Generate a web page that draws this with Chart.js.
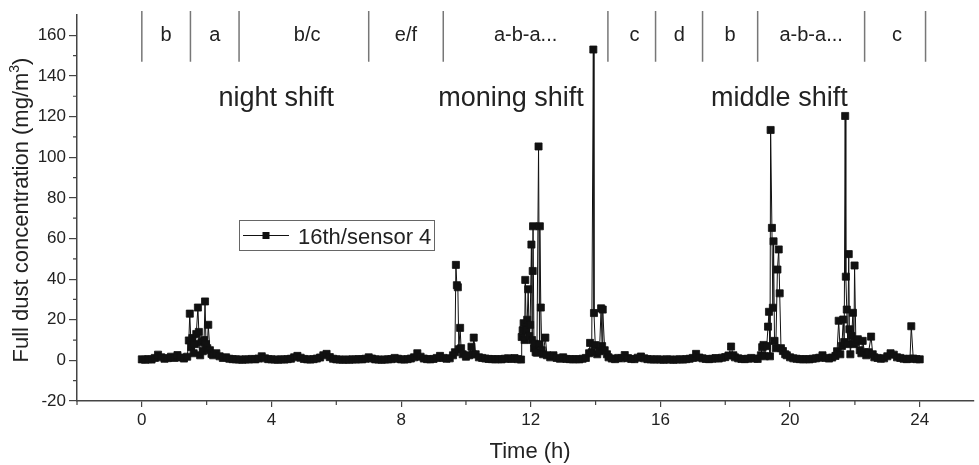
<!DOCTYPE html>
<html>
<head>
<meta charset="utf-8">
<script src="https://cdn.jsdelivr.net/npm/chart.js@4.4.1/dist/chart.umd.min.js"></script>
<style>
  body { margin: 0; background: #fff; }
  canvas { display: block; }
</style>
</head>
<body>
<canvas id="myChart" width="979" height="465"></canvas>
<script>
// time of day (h) and dust reading
var hours = [
  0, 0.1, 0.2, 0.3, 0.4, 0.5, 0.6, 0.7, 0.8, 0.9, 1.0, 1.1, 1.2, 1.3, 1.4,
  1.45, 1.48, 1.52, 1.56, 1.6, 1.64, 1.68, 1.73, 1.76, 1.8, 1.84, 1.88, 1.92, 1.95, 1.98, 2.02, 2.05, 2.1, 2.15, 2.2, 2.3, 2.4, 2.5,
  2.6, 2.7, 2.8, 2.9, 3.0, 3.1, 3.2, 3.3, 3.4, 3.5,
  3.6, 3.7, 3.8, 3.9, 4.0, 4.1, 4.2, 4.3, 4.4, 4.5,
  4.6, 4.7, 4.8, 4.9, 5.0, 5.1, 5.2, 5.3, 5.4, 5.5,
  5.6, 5.7, 5.8, 5.9, 6.0, 6.1, 6.2, 6.3, 6.4, 6.5,
  6.6, 6.7, 6.8, 6.9, 7.0, 7.1, 7.2, 7.3, 7.4, 7.5,
  7.6, 7.7, 7.8, 7.9, 8.0, 8.1, 8.2, 8.3, 8.4, 8.5,
  8.6, 8.7, 8.8, 8.9, 9.0, 9.1, 9.2, 9.3, 9.4, 9.5,
  9.6,
  9.66, 9.69, 9.72, 9.75, 9.78, 9.82, 9.85, 9.9, 10.0, 10.1, 10.17, 10.21, 10.24, 10.3, 10.4,
  10.5, 10.6, 10.7, 10.8, 10.9, 11.0, 11.1, 11.2, 11.3, 11.4, 11.5, 11.6, 11.7,
  11.72, 11.75, 11.78, 11.81, 11.83, 11.86, 11.89, 11.92, 11.95, 11.98, 12.02, 12.04, 12.06, 12.07, 12.1, 12.12, 12.15, 12.19, 12.24, 12.27, 12.28, 12.31, 12.34, 12.38, 12.45, 12.5,
  12.6, 12.7, 12.8, 12.9, 13.0, 13.1, 13.2, 13.3, 13.4, 13.5, 13.6, 13.7, 13.8,
  13.83, 13.88, 13.93, 13.95, 13.99, 14.05, 14.12, 14.17, 14.2, 14.22, 14.28, 14.35, 14.4,
  14.5, 14.6, 14.7, 14.8, 14.9, 15.0, 15.1, 15.2, 15.3, 15.4,
  15.5, 15.6, 15.7, 15.8, 15.9, 16.0, 16.1, 16.2, 16.3, 16.4,
  16.5, 16.6, 16.7, 16.8, 16.9, 17.0, 17.1, 17.2, 17.3, 17.4,
  17.5, 17.6, 17.7, 17.8, 17.9, 18.0, 18.1,
  18.18, 18.25,
  18.3, 18.4, 18.5, 18.6, 18.7, 18.8, 18.9, 19.0,
  19.1, 19.14, 19.18, 19.22, 19.28, 19.32, 19.35, 19.38, 19.4, 19.44, 19.47, 19.49, 19.52, 19.56, 19.61, 19.65, 19.68, 19.72, 19.78, 19.85, 19.9,
  20.0, 20.1, 20.2, 20.3, 20.4, 20.5, 20.6, 20.7, 20.8, 20.9, 21.0, 21.1, 21.2, 21.3, 21.4,
  21.45, 21.5, 21.55, 21.6, 21.64, 21.67, 21.7, 21.72, 21.75, 21.78, 21.81, 21.83, 21.86, 21.9, 21.94, 21.97, 21.99, 22.03, 22.09, 22.15, 22.2, 22.24, 22.3, 22.35, 22.42, 22.5, 22.55,
  22.6, 22.7, 22.8, 22.9, 23.0, 23.1, 23.2, 23.3, 23.4, 23.5, 23.6, 23.7, 23.74, 23.8, 23.9, 24.0
];
var dust = [
  0.5, 0.3, 0.6, 0.4, 1.2, 2.8, 1.5, 0.8, 1.1, 1.8, 1.2, 2.6, 1.4, 0.9, 1.8,
  9.8, 23, 6.5, 11, 3.5, 8, 13, 26, 14, 2.5, 9, 4.5, 10, 29, 8, 6, 17.5, 5, 3.2, 2.5, 3.5, 2, 1.2,
  1.5, 0.8, 0.6, 0.5, 0.4, 0.3, 0.5, 0.4, 0.7, 0.5,
  0.9, 2.0, 1.0, 0.6, 0.5, 0.4, 0.3, 0.5, 0.4, 0.6,
  0.8, 1.5, 2.2, 1.3, 0.7, 0.5, 0.4, 0.6, 0.9, 1.4,
  2.5, 3.2, 1.6, 0.8, 0.5, 0.4, 0.3, 0.4, 0.3, 0.5,
  0.4, 0.6, 0.5, 0.8, 1.5, 0.9, 0.5, 0.4, 0.3, 0.4,
  0.5, 0.6, 1.2, 0.8, 0.5, 0.4, 0.6, 0.9, 1.5, 3.5,
  1.8, 0.9, 0.6, 0.5, 0.7, 1.2, 2.2, 1.2, 0.8, 1.0,
  2.5,
  4, 47, 37, 36, 5.5, 16, 6, 3, 1.8, 2.5, 6.7, 3, 11.2, 3, 1.5,
  1.2, 0.9, 0.7, 0.6, 0.5, 0.6, 0.5, 0.8, 1.0, 0.7, 1.1, 0.6, 0.4,
  11.5, 14.8, 18.3, 10, 39.6, 15, 20, 35, 12, 17.5, 57, 10, 44, 66, 6, 8.2, 4, 3.8, 105.3, 7.9, 66, 26, 5, 3, 11.2, 2.5,
  1.5, 2.5, 1.2, 0.8, 1.5, 0.7, 0.6, 0.5, 0.6, 0.5, 0.8, 1.2, 3.5,
  8.6, 4, 153, 23.3, 7.5, 3, 4.5, 25.6, 7, 25, 5, 3, 1.5,
  0.9, 0.6, 1.2, 1.0, 2.6, 1.1, 0.7, 0.6, 1.3, 1.9,
  1.0, 0.6, 0.5, 0.4, 0.5, 0.4, 0.3, 0.5, 0.4, 0.3,
  0.4, 0.5, 0.4, 0.6, 0.8, 1.2, 3.2, 1.4, 1.0, 0.7,
  0.6, 0.8, 1.1, 0.9, 1.3, 1.6, 2.4,
  6.8, 2.5,
  1.5, 1.0, 0.7, 0.6, 0.8, 1.2, 0.9, 0.7,
  2.5, 6.5, 7.6, 2, 7, 16.6, 23.9, 2, 113.4, 65.2, 25.9, 58.6, 9.6, 6, 44.7, 54.6, 33, 6, 4.6, 3, 2.5,
  1.5, 1.0, 0.8, 0.6, 0.5, 0.6, 0.5, 0.8, 1.0, 1.3, 2.5, 1.2, 0.9, 1.4, 2.2,
  4.5, 19.5, 3, 7.1, 20.1, 9, 120.3, 41.2, 25, 8, 52.3, 15.3, 3, 12, 23.4, 8, 46.7, 9, 10.4, 5, 3.5, 9.6, 4, 2.5, 4, 11.7, 3,
  1.5, 1.2, 0.8, 1.0, 2.0, 3.5, 2.8, 1.5, 1.2, 0.8, 0.6, 0.8, 16.8, 0.9, 0.6, 0.5
];
var seriesName = '16th/sensor 4';

var xTicks = [0, 4, 8, 12, 16, 20, 24];
var xMinorTicks = [-2, 2, 6, 10, 14, 18, 22];
var yTicks = [-20, 0, 20, 40, 60, 80, 100, 120, 140, 160];
var yMinorTicks = [-10, 10, 30, 50, 70, 90, 110, 130, 150];

// work phases along the top
var phaseBounds = [0, 1.5, 3, 7, 9.3, 14.38, 15.85, 17.3, 19, 22.3, 24.18];
var phaseNames = ['b', 'a', 'b/c', 'e/f', 'a-b-a...', 'c', 'd', 'b', 'a-b-a...', 'c'];
var phaseCenters = [0.75, 2.25, 5.1, 8.15, 11.84, 15.2, 16.58, 18.15, 20.65, 23.3];
var shiftNames = ['night shift', 'moning shift', 'middle shift'];
var shiftCenters = [4.15, 11.39, 19.67];

var FONT = '"Liberation Sans", Arial, sans-serif';
Chart.defaults.font.family = FONT;

var points = hours.map(function (h, i) { return { x: h, y: dust[i] }; });

var extras = {
  id: 'extras',
  afterDraw: function (chart) {
    var ctx = chart.ctx;
    var xs = chart.scales.x, ys = chart.scales.y, area = chart.chartArea;
    ctx.save();

    // minor ticks
    ctx.strokeStyle = '#444';
    ctx.lineWidth = 1.2;
    ctx.beginPath();
    xMinorTicks.forEach(function (h) {
      var px = xs.getPixelForValue(h);
      ctx.moveTo(px, area.bottom);
      ctx.lineTo(px, area.bottom + 4);
    });
    yMinorTicks.forEach(function (v) {
      var py = ys.getPixelForValue(v);
      ctx.moveTo(area.left, py);
      ctx.lineTo(area.left - 4, py);
    });
    ctx.stroke();

    // phase dividers + names
    ctx.strokeStyle = '#777';
    ctx.lineWidth = 1.5;
    ctx.beginPath();
    phaseBounds.forEach(function (h) {
      var px = xs.getPixelForValue(h);
      ctx.moveTo(px, ys.getPixelForValue(172));
      ctx.lineTo(px, ys.getPixelForValue(147));
    });
    ctx.stroke();

    ctx.fillStyle = '#222';
    ctx.textAlign = 'center';
    ctx.textBaseline = 'alphabetic';
    ctx.font = '20px ' + FONT;
    phaseNames.forEach(function (name, i) {
      ctx.fillText(name, xs.getPixelForValue(phaseCenters[i]), ys.getPixelForValue(157));
    });

    ctx.font = '27px ' + FONT;
    shiftNames.forEach(function (name, i) {
      ctx.fillText(name, xs.getPixelForValue(shiftCenters[i]), ys.getPixelForValue(125.4));
    });

    // legend box
    var lx = area.left + 162, ly = area.top + 205;
    ctx.strokeStyle = '#666';
    ctx.lineWidth = 1;
    ctx.strokeRect(lx + 0.5, ly + 0.5, 195, 30);
    ctx.strokeStyle = '#111';
    ctx.beginPath();
    ctx.moveTo(lx + 4, ly + 15.5);
    ctx.lineTo(lx + 50, ly + 15.5);
    ctx.stroke();
    ctx.fillStyle = '#111';
    ctx.fillRect(lx + 23.5, ly + 12, 7, 7);
    ctx.fillStyle = '#222';
    ctx.textAlign = 'left';
    ctx.font = '22px ' + FONT;
    ctx.fillText(seriesName, lx + 59, ly + 23.5);

    // axis titles
    ctx.textAlign = 'center';
    ctx.fillText('Time (h)', (area.left + area.right) / 2 + 5, 458);

    var main = 'Full dust concentration (mg/m';
    ctx.font = '22px ' + FONT;
    var wMain = ctx.measureText(main).width;
    var wClose = ctx.measureText(')').width;
    ctx.font = '14px ' + FONT;
    var wSup = ctx.measureText('3').width;
    var total = wMain + wSup + wClose;
    ctx.translate(28, (area.top + area.bottom) / 2 + 2);
    ctx.rotate(-Math.PI / 2);
    ctx.textAlign = 'left';
    ctx.font = '22px ' + FONT;
    ctx.fillText(main, -total / 2, 0);
    ctx.font = '14px ' + FONT;
    ctx.fillText('3', -total / 2 + wMain, -9);
    ctx.font = '22px ' + FONT;
    ctx.fillText(')', -total / 2 + wMain + wSup, 0);

    ctx.restore();
  }
};

var ctx = document.getElementById('myChart').getContext('2d');
var chart = new Chart(ctx, {
  type: 'line',
  data: {
    datasets: [{
      label: seriesName,
      data: points,
      borderColor: '#111',
      borderWidth: 1,
      pointStyle: 'rect',
      pointRadius: 5,
      pointBorderWidth: 0.8,
      pointBackgroundColor: '#111',
      pointBorderColor: '#111',
      tension: 0
    }]
  },
  options: {
    responsive: false,
    animation: false,
    devicePixelRatio: 1,
    layout: { padding: { left: 0, top: 15, right: 1, bottom: 0 } },
    plugins: {
      legend: { display: false },
      tooltip: { enabled: false }
    },
    scales: {
      x: {
        type: 'linear',
        min: -2,
        max: 25.65,
        afterBuildTicks: function (scale) {
          scale.ticks = xTicks.map(function (v) { return { value: v }; });
        },
        afterFit: function (scale) { scale.height = 64; },
        ticks: { color: '#222', font: { size: 17 }, padding: 3, maxRotation: 0 },
        grid: { drawOnChartArea: false, drawTicks: true, tickLength: 6, color: '#444', lineWidth: 1.2 },
        border: { display: true, color: '#444', width: 1.5 }
      },
      y: {
        type: 'linear',
        min: -20,
        max: 170,
        afterBuildTicks: function (scale) {
          scale.ticks = yTicks.map(function (v) { return { value: v }; });
        },
        afterFit: function (scale) { scale.width = 77; },
        ticks: { color: '#222', font: { size: 17 }, padding: 3 },
        grid: { drawOnChartArea: false, drawTicks: true, tickLength: 8, color: '#444', lineWidth: 1.2 },
        border: { display: true, color: '#444', width: 1.5 }
      }
    }
  },
  plugins: [extras]
});
</script>
</body>
</html>
